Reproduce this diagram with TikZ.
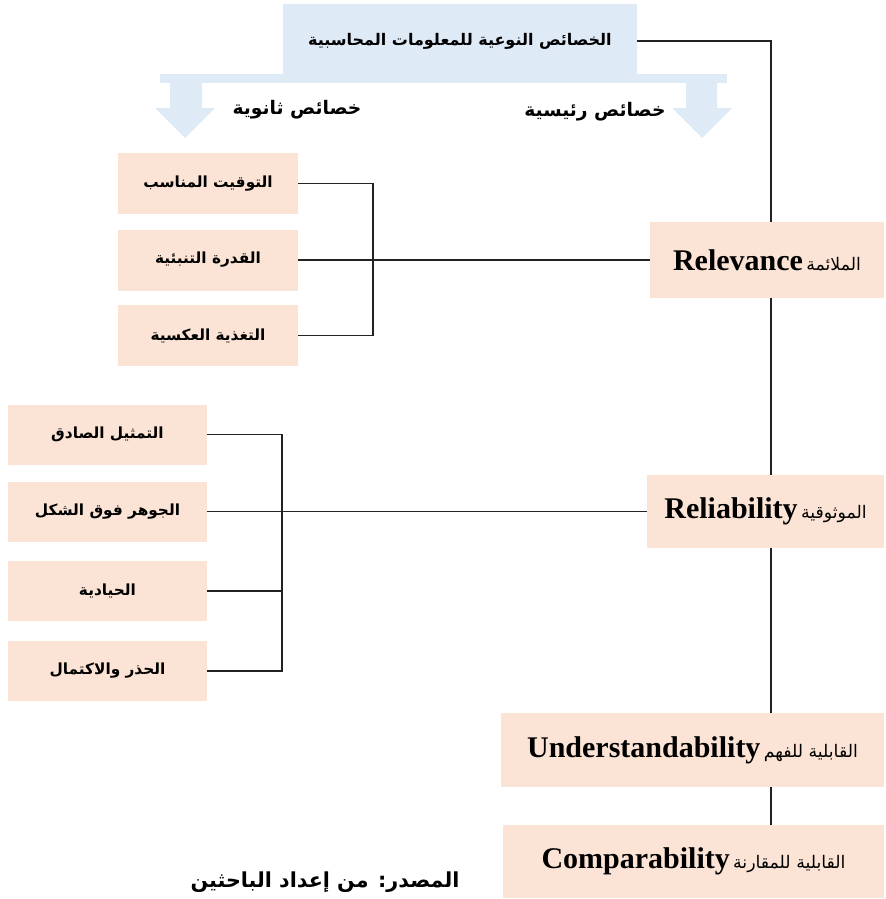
\documentclass[tikz,border=0pt]{standalone}
\usepackage{fontspec}
\setmainfont{Liberation Serif}
\newfontfamily\arabicfont[Script=Arabic]{DejaVu Sans}
\TeXXeTstate=1
\definecolor{peach}{HTML}{FBE4D5}
\definecolor{paleblue}{HTML}{DEEAF6}
\definecolor{linec}{HTML}{222222}
\tikzset{
  pbox/.style={fill=peach, draw=none, inner sep=0pt},
  bbox/.style={fill=paleblue, draw=none, inner sep=0pt},
  artxt/.style={font=\arabicfont\bfseries\fontsize{11.5}{14}\selectfont},
  headtxt/.style={font=\arabicfont\bfseries\fontsize{14}{16}\selectfont},
  conn/.style={draw=linec, line width=0.8pt},
  bigarrow/.style={fill=paleblue, draw=none}
}
\newcommand{\AR}[1]{{\arabicfont\beginR #1\endR}}
\newcommand{\EN}[1]{\textbf{\fontsize{22.5}{26}\selectfont #1}}
\newcommand{\ARM}[1]{{\arabicfont\fontsize{13}{15}\selectfont\beginR #1\endR}}
\begin{document}
\begin{tikzpicture}[x=0.75pt,y=-0.75pt]
\useasboundingbox (0,0) rectangle (885,899);
% top box and big arrows
\fill[bigarrow] (160,74) rectangle (727,83);
\fill[bigarrow] (170,83) -- (202,83) -- (202,108) -- (215,108) -- (185,138) -- (155,108) -- (170,108) -- cycle;
\fill[bigarrow] (686,83) -- (717,83) -- (717,108) -- (732,108) -- (702,138) -- (672,108) -- (686,108) -- cycle;
\node[bbox, minimum width=265.5pt, minimum height=55.5pt, font=\arabicfont\bfseries\fontsize{12}{14}\selectfont] (top) at (460,41) {\AR{الخصائص النوعية للمعلومات المحاسبية}};
\node[headtxt] (sec) at (297,110) {\AR{خصائص ثانوية}};
\node[headtxt] (pri) at (595,112) {\AR{خصائص رئيسية}};
\coordinate (spine) at (771,0);
% main boxes
\node[pbox, minimum width=175.5pt, minimum height=57pt] (rel) at (767,260) {\EN{Relevance} \ARM{الملائمة}};
\node[pbox, minimum width=177.75pt, minimum height=54.75pt] (relb) at (765.5,511.5) {\EN{Reliability} \ARM{الموثوقية}};
\node[pbox, minimum width=287.25pt, minimum height=55.5pt] (und) at (692.5,750) {\EN{Understandability} \ARM{القابلية للفهم}};
\node[pbox, minimum width=285.75pt, minimum height=54.75pt] (cmp) at (693.5,861.5) {\EN{Comparability} \ARM{القابلية للمقارنة}};
% secondary group 1
\node[pbox, artxt, minimum width=135pt, minimum height=45.75pt] (g1a) at (208,183.5) {\AR{التوقيت المناسب}};
\node[pbox, artxt, minimum width=135pt, minimum height=45.75pt] (g1b) at (208,260) {\AR{القدرة التنبئية}};
\node[pbox, artxt, minimum width=135pt, minimum height=45.75pt] (g1c) at (208,335.5) {\AR{التغذية العكسية}};
% secondary group 2
\node[pbox, artxt, minimum width=149.25pt, minimum height=45pt] (g2a) at (107.5,434.5) {\AR{التمثيل الصادق}};
\node[pbox, artxt, minimum width=149.25pt, minimum height=45pt] (g2b) at (107.5,511.5) {\AR{الجوهر فوق الشكل}};
\node[pbox, artxt, minimum width=149.25pt, minimum height=45pt] (g2c) at (107.5,591) {\AR{الحيادية}};
\node[pbox, artxt, minimum width=149.25pt, minimum height=45pt] (g2d) at (107.5,671) {\AR{الحذر والاكتمال}};
% source
\node[font=\arabicfont\bfseries\fontsize{15.5}{18}\selectfont] (src) at (325,882) {\AR{المصدر: من إعداد الباحثين}};
% connectors: spine
\draw[conn] (top.east) -| (rel.north -| spine);
\draw[conn] (rel.south -| spine) -- (relb.north -| spine);
\draw[conn] (relb.south -| spine) -- (und.north -| spine);
\draw[conn] (und.south -| spine) -- (cmp.north -| spine);
% group 1 bracket
\coordinate (b1) at (373,0);
\draw[conn] (g1a.east) -- (g1a.east -| b1) -- (g1c.east -| b1) -- (g1c.east);
\draw[conn] (g1b.east) -- (rel.west);
% group 2 bracket
\coordinate (b2) at (282,0);
\draw[conn] (g2a.east) -- (g2a.east -| b2) -- (g2d.east -| b2) -- (g2d.east);
\draw[conn] (g2c.east) -- (g2c.east -| b2);
\draw[conn] (g2b.east) -- (relb.west);
\end{tikzpicture}
\end{document}
